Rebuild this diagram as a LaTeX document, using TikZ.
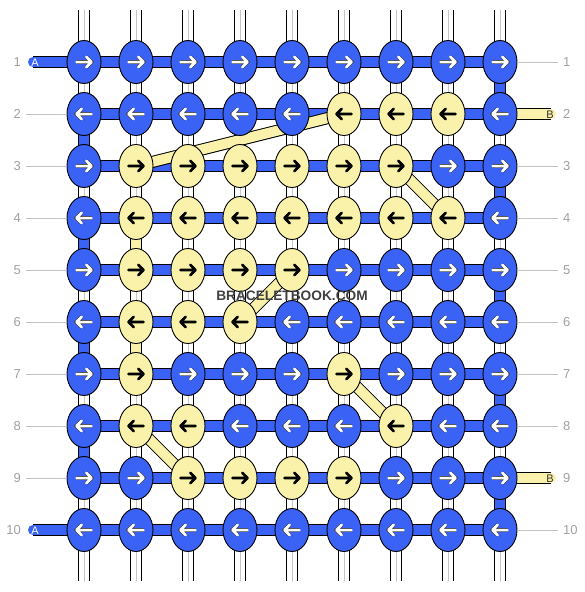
\documentclass[tikz,border=0pt]{standalone}
\usepackage{fontspec}
\setmainfont{Liberation Sans}
\usetikzlibrary{shapes.geometric}

\definecolor{threadA}{RGB}{58,98,244}
\definecolor{threadB}{RGB}{250,242,170}
\definecolor{rowgray}{RGB}{160,160,160}
\definecolor{guidegray}{RGB}{195,195,195}

\tikzset{
	warp/.style={line width=10pt, white, line cap=round, preaction={draw=black, line width=12pt}, postaction={draw=gray!45, line width=1pt}},
	bandA/.style={line width=10pt, threadA, preaction={draw=black, line width=12pt}},
	bandB/.style={line width=10pt, threadB, preaction={draw=black, line width=12pt}},
	knotA/.style={ellipse, draw=black, line width=0.9pt, fill=threadA, minimum width=34pt, minimum height=43pt, inner sep=0pt},
	knotB/.style={knotA, fill=threadB},
	tipA/.style={white, line width=2.5pt, line cap=round, line join=round, preaction={draw=black!75, line width=3.8pt}},
	tipB/.style={black, line width=2.6pt, line cap=round, line join=round},
	rownum/.style={text=rowgray, font={\fontsize{13}{13}\selectfont}, inner sep=0pt},
	guide/.style={guidegray, line width=0.8pt},
	endlabel/.style={font={\fontsize{11}{11}\selectfont}, inner sep=0pt}
}

\begin{document}
\begin{tikzpicture}[x=1pt, y=-1pt]
	\useasboundingbox (0,0) rectangle (584,592);
	
	\foreach \r in {1,...,10}
		\foreach \c in {1,...,9}
			\coordinate (p-\r-\c) at (84+52*\c-52, 62+52*\r-52);
	
	\foreach \c in {1,...,9} {
		\coordinate (top-\c) at (84+52*\c-52, 10);
		\coordinate (bot-\c) at (84+52*\c-52, 581);
		\draw[warp] (top-\c) -- (bot-\c);
	}
	
	\foreach \r in {1,...,10}
		\draw[bandA] (p-\r-1) -- (p-\r-9);
	\foreach \r in {1,...,9} {
		\pgfmathtruncatemacro\s{\r+1}
		\pgfmathtruncatemacro\e{isodd(\r) ? 9 : 1}
		\draw[bandA] (p-\r-\e) -- (p-\s-\e);
	}
	\foreach \a/\b in {2-6/3-2, 3-7/4-8, 4-2/5-2, 5-5/6-4, 6-2/7-2, 7-6/8-7, 8-2/9-3}
		\draw[bandB] (p-\a) -- (p-\b);
	
	\coordinate (endA-1) at (33,62);
	\coordinate (endA-10) at (33,530);
	\coordinate (endB-2) at (551,114);
	\coordinate (endB-9) at (551,478);
	\draw[bandA, line cap=round] (endA-1) -- (p-1-1);
	\draw[bandA, line cap=round] (endA-10) -- (p-10-1);
	\draw[bandB, line cap=round] (endB-2) -- (p-2-9);
	\draw[bandB, line cap=round] (endB-9) -- (p-9-9);
	\node[endlabel, text=white] (lA-1) at (35,62.5) {A};
	\node[endlabel, text=white] (lA-10) at (35,530.5) {A};
	\node[endlabel, text=black!80] (lB-2) at (550,114.5) {B};
	\node[endlabel, text=black!80] (lB-9) at (550,478.5) {B};
	
	\foreach \r/\pat in {1/{A,A,A,A,A,A,A,A,A}, 2/{A,A,A,A,A,B,B,B,A}, 3/{A,B,B,B,B,B,B,A,A}, 4/{A,B,B,B,B,B,B,B,A}, 5/{A,B,B,B,B,A,A,A,A}, 6/{A,B,B,B,A,A,A,A,A}, 7/{A,B,A,A,A,B,A,A,A}, 8/{A,B,B,A,A,A,B,A,A}, 9/{A,A,B,B,B,B,A,A,A}, 10/{A,A,A,A,A,A,A,A,A}} {
		\pgfmathsetmacro\dir{isodd(\r) ? 1 : -1}
		\foreach \k [count=\c] in \pat {
			\node[knot\k] (k-\r-\c) at (p-\r-\c) {};
			\draw[tip\k, shift={(p-\r-\c)}, xscale=\dir] (-7.5,0) -- (7.5,0) (2.2,-5.3) -- (7.5,0) -- (2.2,5.3);
		}
	}
	
	\foreach \r in {1,...,10} {
		\node[rownum, anchor=east] (nl-\r) at (21, 62+52*\r-52) {\r};
		\node[rownum, anchor=west] (nr-\r) at (563, 62+52*\r-52) {\r};
	}
	\foreach \r in {2,...,9}
		\draw[guide] ([xshift=5pt]nl-\r.east) -- (k-\r-1.west);
	\foreach \r in {1,3,4,5,6,7,8,10}
		\draw[guide] (k-\r-9.east) -- ([xshift=-5pt]nr-\r.west);
	
	\node[font={\fontsize{13.7}{14}\selectfont\bfseries}, text=black!75] (mark) at (292,296) {BRACELETBOOK.COM};
\end{tikzpicture}
\end{document}
